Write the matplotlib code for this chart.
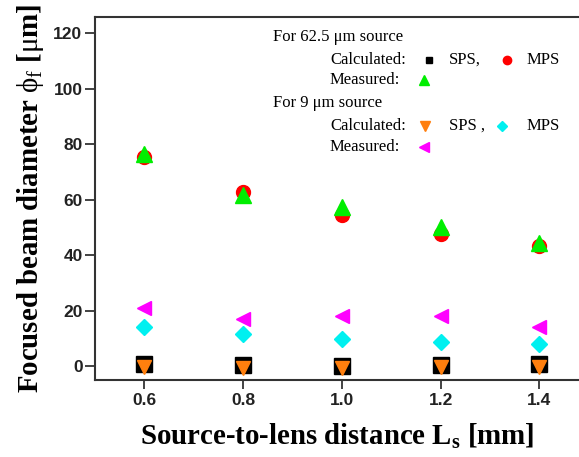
import matplotlib
matplotlib.use("Agg")
import matplotlib.pyplot as plt

x = [0.6, 0.8, 1.0, 1.2, 1.4]
sps_625 = [0.6, 0.3, -0.1, 0.3, 0.7]
mps_625 = [75.3, 62.8, 54.4, 47.6, 43.3]
meas_625 = [76.3, 61.5, 57.3, 50.2, 44.3]
sps_9 = [-0.4, -0.5, -0.8, -0.4, -0.4]
mps_9 = [14.0, 11.5, 9.8, 8.6, 7.8]
meas_9 = [21.0, 17.0, 18.0, 18.0, 14.0]
xticks = [0.6, 0.8, 1.0, 1.2, 1.4]
yticks = [0, 20, 40, 60, 80, 100, 120]

plt.rcParams['mathtext.fontset'] = 'custom'
plt.rcParams['mathtext.rm'] = 'Liberation Serif'
plt.rcParams['mathtext.it'] = 'Liberation Serif'
plt.rcParams['mathtext.bf'] = 'Liberation Serif:bold'

fig = plt.figure(figsize=(5.79, 4.57), dpi=100)
ax = fig.add_axes([95/579, 77/457, 1 - 95/579, (380-17)/457])

ax.plot(x, sps_625, ls='none', marker='s', ms=11, color='black', zorder=3)
ax.plot(x, mps_625, ls='none', marker='o', ms=10, color='#ff0000', zorder=3)
ax.plot(x, meas_625, ls='none', marker='^', ms=11, color='#00ee00', zorder=4)
ax.plot(x, sps_9, ls='none', marker='v', ms=10, color='#ff7f0e', zorder=4)
ax.plot(x, mps_9, ls='none', marker='D', ms=8.5, color='#00f0f0', zorder=3)
ax.plot(x, meas_9, ls='none', marker='<', ms=10.5, color='#ff00ff', zorder=3)

ax.set_xlim(0.5, 1.48)
ax.set_ylim(-5, 125.8)
ax.set_xticks(xticks)
ax.set_xticklabels([f"{v:.1f}" for v in xticks])
ax.set_yticks(yticks)
for lab in ax.get_xticklabels() + ax.get_yticklabels():
    lab.set_fontfamily('Liberation Sans')
    lab.set_fontweight('bold')
    lab.set_fontsize(12.5)
ax.tick_params(axis='y', direction='out', length=7.5, width=1.2, colors='#222222', pad=1.5)
ax.tick_params(axis='x', direction='out', length=6.5, width=1.2, colors='#222222', pad=3)
for s in ['left', 'bottom', 'top']:
    ax.spines[s].set_linewidth(1.5)
    ax.spines[s].set_color('#333333')
ax.spines['right'].set_visible(False)

ax.set_xlabel(r'Source-to-lens distance $\mathbf{L_{s}}$ [mm]', fontfamily='Liberation Serif',
              fontweight='bold', fontsize=20.8, labelpad=10)
ax.set_ylabel(r'Focused beam diameter $\phi_{\mathrm{f}}$ [$\mu$m]', fontfamily='Liberation Serif',
              fontweight='bold', fontsize=20.8, labelpad=5)

# annotation legend
tf = dict(fontfamily='Liberation Serif', fontsize=12, color='black', va='center', ha='left',
          transform=fig.transFigure)
def fx(px):
    return px / 579
def fy(py):
    return 1 - py / 457

fig.text(fx(273), fy(37), 'For 62.5 \u03bcm source', **tf)
fig.text(fx(330), fy(60), 'Calculated:', **tf)
fig.text(fx(449), fy(60), 'SPS,', **tf)
fig.text(fx(527), fy(60), 'MPS', **tf)
fig.text(fx(330), fy(80), 'Measured:', **tf)
fig.text(fx(273), fy(103), 'For 9 \u03bcm source', **tf)
fig.text(fx(330), fy(126), 'Calculated:', **tf)
fig.text(fx(449), fy(126), 'SPS ,', **tf)
fig.text(fx(527), fy(126), 'MPS', **tf)
fig.text(fx(330), fy(147), 'Measured:', **tf)

legend_marks = [
    (429, 60, 's', 'black', 5),
    (507, 60, 'o', '#ff0000', 6),
    (424, 80, '^', '#00ee00', 7),
    (425, 126, 'v', '#ff7f0e', 7),
    (502, 126, 'D', '#00f0f0', 5),
    (424, 147, '<', '#ff00ff', 7),
]
for px, py, m, c, s in legend_marks:
    fig.lines.append(plt.Line2D([fx(px)], [fy(py)], marker=m, color=c, ms=s, ls='none',
                                transform=fig.transFigure))

fig.savefig('out.png', dpi=100)
